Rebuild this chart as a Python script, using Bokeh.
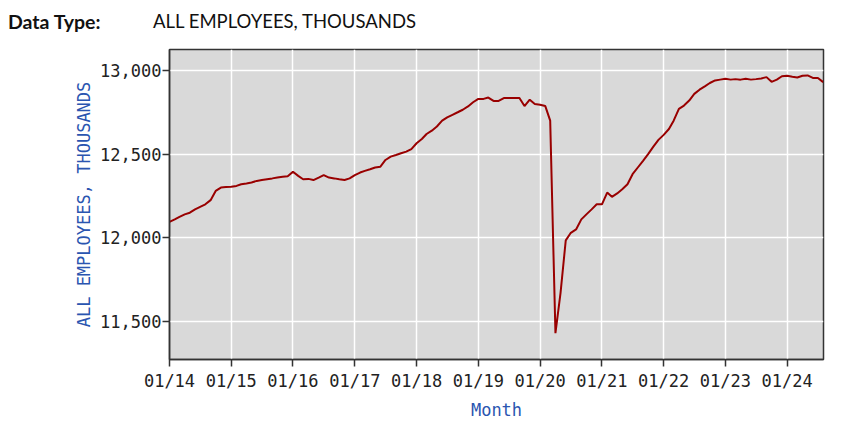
import pandas as pd
from bokeh.plotting import figure
from bokeh.layouts import column
from bokeh.models import (ColumnDataSource, Range1d, FixedTicker, Div,
                          DatetimeTickFormatter, NumeralTickFormatter)
from bokeh.embed import file_html
from bokeh.resources import INLINE

# Monthly values, Jan 2014 .. Aug 2024 (thousands)
v2014 = [12095, 12110, 12125, 12140, 12150, 12170, 12185, 12200, 12225, 12280, 12300, 12303]
v2015 = [12305, 12310, 12320, 12325, 12330, 12340, 12345, 12350, 12355, 12360, 12365, 12368]
v2016 = [12395, 12370, 12350, 12352, 12345, 12360, 12375, 12360, 12355, 12350, 12345, 12355]
v2017 = [12375, 12390, 12400, 12410, 12420, 12425, 12465, 12485, 12495, 12505, 12515, 12530]
v2018 = [12565, 12590, 12620, 12640, 12665, 12700, 12720, 12735, 12750, 12765, 12785, 12810]
v2019 = [12830, 12830, 12838, 12818, 12818, 12835, 12835, 12835, 12835, 12787, 12825, 12800]
v2020 = [12795, 12787, 12700, 11430, 11670, 11985, 12030, 12050, 12110, 12140, 12170, 12200]
v2021 = [12200, 12270, 12245, 12265, 12290, 12320, 12380, 12420, 12460, 12500, 12545, 12585]
v2022 = [12615, 12650, 12700, 12770, 12790, 12820, 12860, 12885, 12905, 12925, 12940, 12945]
v2023 = [12950, 12945, 12948, 12945, 12950, 12945, 12948, 12952, 12960, 12932, 12945, 12965]
v2024 = [12968, 12962, 12958, 12968, 12970, 12955, 12955, 12930]

values = v2014 + v2015 + v2016 + v2017 + v2018 + v2019 + v2020 + v2021 + v2022 + v2023 + v2024
months = pd.date_range("2014-01-01", periods=len(values), freq="MS")

y_ticks = [11500, 12000, 12500, 13000]
tick_years = list(range(2014, 2025))
x_ticks = [pd.Timestamp(f"{y}-01-01").value / 1e6 for y in tick_years]

header_label = "Data Type:"
header_value = "ALL EMPLOYEES, THOUSANDS"

src = ColumnDataSource(dict(month=months, value=values))

p = figure(width=844, height=385, output_backend="svg", toolbar_location=None,
           x_axis_type="datetime",
           x_range=Range1d(pd.Timestamp("2014-01-01"), pd.Timestamp("2024-08-03")),
           y_range=Range1d(11273, 13125),
           min_border_left=169, min_border_right=21, min_border_top=8, min_border_bottom=67)
p.frame_width = 654
p.frame_height = 310

p.line("month", "value", source=src, line_color="#990000", line_width=2)

p.background_fill_color = "#d9d9d9"
p.border_fill_color = "white"
p.outline_line_color = "#333333"
p.outline_line_width = 1.5

for g in (p.xgrid, p.ygrid):
    g.grid_line_color = "white"
    g.grid_line_width = 1.5

mono = "DejaVu Sans Mono"
blue = "#2a55b0"

p.yaxis.ticker = FixedTicker(ticks=y_ticks)
p.yaxis.formatter = NumeralTickFormatter(format="0,0")
p.xaxis.ticker = FixedTicker(ticks=x_ticks)
p.xaxis.formatter = DatetimeTickFormatter(years="%m/%y", months="%m/%y", days="%m/%y")

for ax in (p.xaxis, p.yaxis):
    ax.major_label_text_font = mono
    ax.major_label_text_font_size = "17px"
    ax.major_label_text_color = "#222222"
    ax.axis_label_text_font = mono
    ax.axis_label_text_font_size = "17px"
    ax.axis_label_text_font_style = "normal"
    ax.axis_label_text_color = blue
    ax.major_tick_out = 7
    ax.major_tick_in = 0
    ax.minor_tick_out = 0
    ax.minor_tick_in = 0
    ax.major_tick_line_color = "#333333"
    ax.major_tick_line_width = 1.5
    ax.axis_line_color = "#333333"
    ax.axis_line_width = 1.5

p.yaxis.axis_label = "ALL EMPLOYEES, THOUSANDS"
p.xaxis.axis_label = "Month"
p.yaxis.major_label_standoff = 1
p.xaxis.major_label_standoff = 4
p.yaxis.axis_label_standoff = 3
p.xaxis.axis_label_standoff = 6

div = Div(text=(f'<span style="font-weight:bold;font-size:19.5px">{header_label}</span>'
                f'<span style="position:absolute;left:148px;top:3px">{header_value}</span>'),
          width=844, height=31,
          styles={"font-family": "Lato", "font-size": "18.5px", "color": "#111111",
                  "padding-left": "3px", "padding-top": "3px", "position": "relative",
                  "box-sizing": "border-box"})

layout = column(div, p, spacing=0)
open("out.html", "w").write(file_html(layout, INLINE))
